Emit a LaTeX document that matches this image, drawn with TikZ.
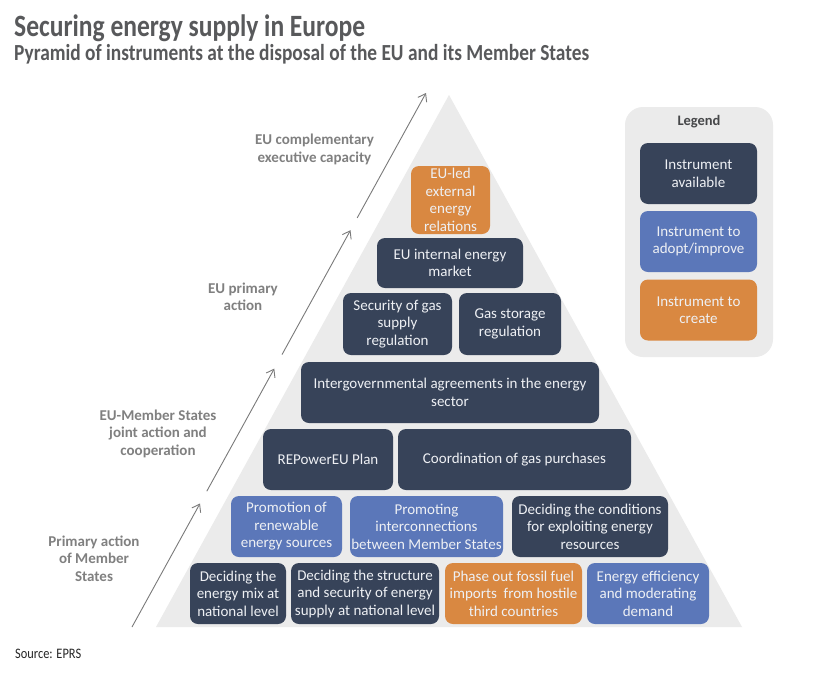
\documentclass[tikz,border=0pt]{standalone}
\usepackage{fontspec}
\usepackage{graphicx}
\setmainfont{Carlito}
\usetikzlibrary{arrows.meta}
\definecolor{dk}{HTML}{374359}
\definecolor{bl}{HTML}{5B77B9}
\definecolor{og}{HTML}{D98841}
\definecolor{bgg}{HTML}{EBEBEB}
\definecolor{lbl}{HTML}{808080}
\definecolor{ttl}{HTML}{58595B}
\definecolor{arr}{HTML}{7A7A7A}
\definecolor{boxtxt}{HTML}{EEF0F4}
\begin{document}
\begin{tikzpicture}[x=1pt,y=-1pt,
  box/.style={rounded corners=8pt, align=center, text=boxtxt, inner sep=0pt,
    font=\fontsize{15}{17.5}\selectfont},
  dkbox/.style={box, fill=dk},
  blbox/.style={box, fill=bl},
  ogbox/.style={box, fill=og},
  sz/.style 2 args={minimum width=#1pt, minimum height=#2pt},
  lvl/.style={align=center, text=lbl, inner sep=0pt,
    font=\fontsize{15}{17.5}\selectfont\bfseries},
  arrline/.style={draw=arr, line width=0.9pt, -{Straight Barb[length=7pt,width=10pt]}}
]
\useasboundingbox (0,0) rectangle (820,681);
\fill[white] (0,0) rectangle (820,681);

% titles
\node[anchor=base west, text=ttl, inner sep=0pt] (title) at (14,36)
  {\resizebox{351pt}{\height}{\fontsize{31}{31}\selectfont\bfseries Securing energy supply in Europe}};
\node[anchor=base west, text=ttl, inner sep=0pt] (subtitle) at (14,60)
  {\resizebox{575pt}{\height}{\fontsize{23}{23}\selectfont\bfseries Pyramid of instruments at the disposal of the EU and its Member States}};

% pyramid
\fill[bgg] (449,95) -- (156,627) -- (742,627) -- cycle;

% row 1
\node[dkbox, sz={96}{61}] (b1) at (238,593.5) {Deciding the\\energy mix at\\national level};
\node[dkbox, sz={148}{61}] (b2) at (365,593.5) {Deciding the structure\\and security of energy\\supply at national level};
\node[ogbox, sz={137}{61}] (b3) at (513.5,593.5) {Phase out fossil fuel\\imports\ \ from hostile\\third countries};
\node[blbox, sz={122}{61}] (b4) at (648,593.5) {Energy efficiency\\and moderating\\demand};
% row 2
\node[blbox, sz={111}{61}] (c1) at (286.5,526.5) {Promotion of\\renewable\\energy sources};
\node[blbox, sz={153}{61}] (c2) at (426.5,526.5) {Promoting\\interconnections\\between Member States};
\node[dkbox, sz={156}{61}] (c3) at (590,526.5) {Deciding the conditions\\for exploiting energy\\resources};
% row 3
\node[dkbox, sz={130}{61}] (d1) at (328,459.5) {REPowerEU Plan};
\node[dkbox, sz={233}{61}] (d2) at (514.5,459.5) {Coordination of gas purchases};
% row 4
\node[dkbox, sz={298}{61}] (e1) at (450,392.5) {Intergovernmental agreements in the energy\\sector};
% row 5
\node[dkbox, sz={109}{62}] (f1) at (397.5,324) {Security of gas\\supply\\regulation};
\node[dkbox, sz={102}{62}] (f2) at (510,324) {Gas storage\\regulation};
% row 6
\node[dkbox, sz={146}{50}] (g1) at (450,263) {EU internal energy\\market};
% row 7
\node[ogbox, sz={79}{68}] (h1) at (450.5,200) {EU-led\\external\\energy\\relations};

% arrows
\coordinate (a0) at (132,627);
\coordinate (a1) at (200.0,503.5);
\coordinate (a2) at (206.8,491.2);
\coordinate (a3) at (274.3,368.6);
\coordinate (a4) at (282.0,354.6);
\coordinate (a5) at (350.5,230.2);
\coordinate (a6) at (357.2,217.9);
\coordinate (a7) at (426.0,93.0);
\draw[arrline] (a0) -- (a1);
\draw[arrline] (a2) -- (a3);
\draw[arrline] (a4) -- (a5);
\draw[arrline] (a6) -- (a7);

% level labels
\node[lvl] (l4) at (314.5,149.5) {EU complementary\\executive capacity};
\node[lvl] (l3) at (243,297) {EU primary\\action};
\node[lvl] (l2) at (158,433.5) {EU-Member States\\joint action and\\cooperation};
\node[lvl] (l1) at (94,558.5) {Primary action\\of Member\\States};

% legend
\node[fill=bgg, rounded corners=18pt, sz={148}{250}, inner sep=0pt] (legbg) at (699,232) {};
\node[text=ttl!80!black, inner sep=0pt, font=\fontsize{14.5}{17}\selectfont\bfseries] (legtitle) at (699,122) {Legend};
\node[dkbox, sz={117}{61}] (k1) at (698.5,173.5) {Instrument\\available};
\node[blbox, sz={117}{61}] (k2) at (698.5,241.5) {Instrument to\\adopt/improve};
\node[ogbox, sz={117}{61}] (k3) at (698.5,310) {Instrument to\\create};

% source
\node[anchor=base west, inner sep=0pt, text=black!85] (src) at (15,658)
  {\resizebox{66pt}{\height}{\fontsize{14.5}{14.5}\selectfont Source: EPRS}};
\end{tikzpicture}
\end{document}
